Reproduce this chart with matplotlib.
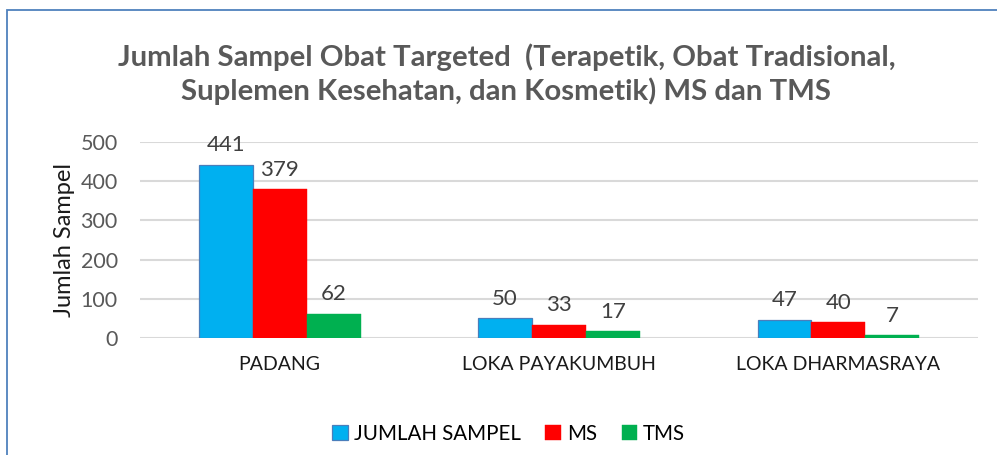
import numpy as np
import matplotlib.pyplot as plt
from matplotlib.patches import Rectangle

# data
categories = ["PADANG", "LOKA PAYAKUMBUH", "LOKA DHARMASRAYA"]
jumlah_sampel = [441, 50, 47]
ms = [379, 33, 40]
tms = [62, 17, 7]
series_names = ["JUMLAH SAMPEL", "MS", "TMS"]
colors = ["#00B0F0", "#FF0000", "#00B050"]
edge_colors = ["#4A7EBB", "#FF0000", "#00B050"]
yticks = [0, 100, 200, 300, 400, 500]

plt.rcParams['font.family'] = ['Lato', 'DejaVu Sans']

fig = plt.figure(figsize=(9.97, 4.55), dpi=100)
ax = fig.add_axes([0.1404, 0.2571, 0.8406, 0.4308])

# chart border (Excel-style frame, cut at right/bottom)
W, H = 997, 455
fig.patches.append(Rectangle((7 / W, -0.1), 1.2, 1 - 10 / H + 0.1,
                             transform=fig.transFigure, fill=False,
                             edgecolor="#4F81BD", linewidth=1.3))

x = np.arange(len(categories))
bw = 0.193
for i, (vals, name) in enumerate(zip([jumlah_sampel, ms, tms], series_names)):
    pos = x + (i - 1) * bw
    bars = ax.bar(pos, vals, width=bw, color=colors[i], edgecolor=edge_colors[i],
                  linewidth=0.9 if i == 0 else 0.3, label=name, zorder=3)
    for b, v in zip(bars, vals):
        ax.annotate(str(v), (b.get_x() + b.get_width() / 2, v),
                    xytext=(0, 7), textcoords="offset points",
                    ha="center", va="bottom", fontsize=16, color="#404040")

ax.set_xlim(-0.5, 2.5)
ax.set_ylim(0, 500)
ax.set_yticks(yticks)
ax.set_xticks(x)
ax.set_xticklabels(categories, fontsize=14, color="#1a1a1a")
ax.tick_params(axis="y", length=0, pad=16, labelsize=15.5, labelcolor="#595959")
ax.tick_params(axis="x", length=0, pad=13)
ax.yaxis.grid(True, color="#D9D9D9", linewidth=1.5, zorder=0)
for s in ax.spines.values():
    s.set_visible(False)
ax.set_ylabel("Jumlah Sampel", fontsize=17, color="#1a1a1a", labelpad=4)

fig.text(0.508, 0.837, "Jumlah Sampel Obat Targeted  (Terapetik, Obat Tradisional,\n"
         "Suplemen Kesehatan, dan Kosmetik) MS dan TMS",
         ha="center", va="center", fontsize=21.2, fontweight="bold",
         color="#595959", linespacing=1.28)

ax.legend(loc="center", bbox_to_anchor=(0.44, -0.49), ncol=3, frameon=False,
          fontsize=14.8, handlelength=0.75, handleheight=0.75, handletextpad=0.3,
          columnspacing=1.2)

fig.savefig("out.png", dpi=100)
